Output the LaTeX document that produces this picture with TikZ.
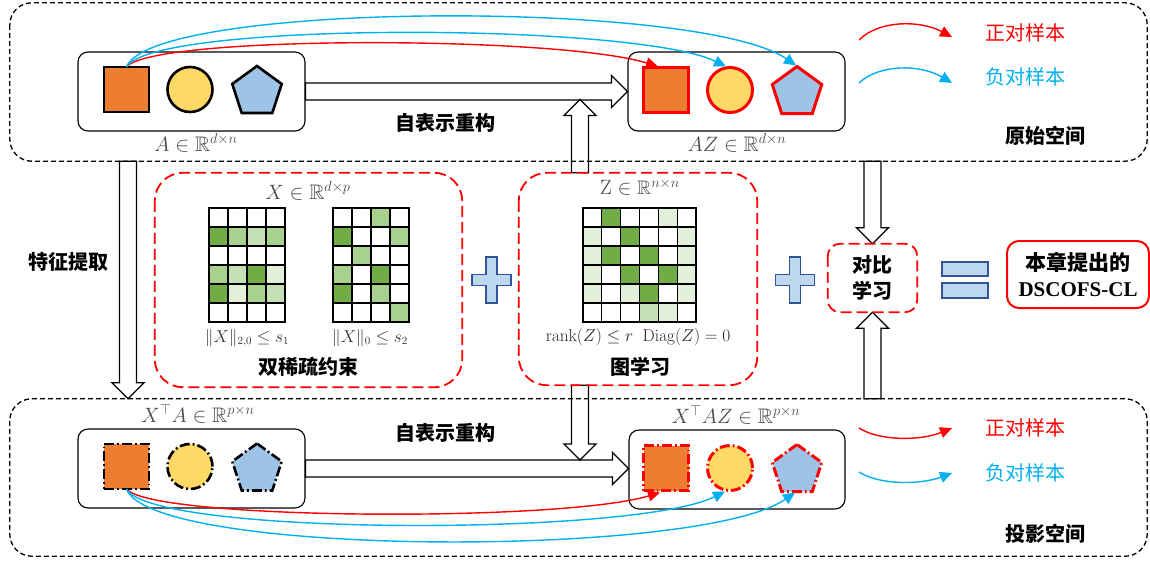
\documentclass[tikz,border=0pt]{standalone}
\usepackage{amssymb}
\usepackage[no-math]{fontspec}
\setmainfont{Liberation Serif}
\newfontfamily\cjk{Noto Sans CJK SC}
\usetikzlibrary{arrows.meta,shapes.geometric,calc}
\definecolor{cOr}{HTML}{ED7D31}
\definecolor{cYe}{HTML}{FFD966}
\definecolor{cBl}{HTML}{9DC3E6}
\definecolor{cRed}{HTML}{FF0000}
\definecolor{cCy}{HTML}{00B0F0}
\definecolor{cD}{HTML}{70AD47}
\definecolor{cM}{HTML}{A9D18E}
\definecolor{cL}{HTML}{C5E0B4}
\definecolor{cV}{HTML}{E2F0D9}
\definecolor{cW}{HTML}{FFFFFF}
\definecolor{plusfill}{HTML}{BDD7EE}
\definecolor{plusline}{HTML}{2F5597}
\definecolor{mgray}{HTML}{4A4A4A}

\newcommand\rarrow[2]{\draw[bigarrow] let \p1=(#1), \p2=(#2) in
  ({\x1},{\y1+8.5pt}) -- ({\x2-16pt},{\y1+8.5pt}) -- ({\x2-16pt},{\y1+16pt}) -- ({\x2},{\y1})
  -- ({\x2-16pt},{\y1-16pt}) -- ({\x2-16pt},{\y1-8.5pt}) -- ({\x1},{\y1-8.5pt}) -- cycle;}
\newcommand\darrow[2]{\draw[bigarrow] let \p1=(#1), \p2=(#2) in
  ({\x1-8.5pt},{\y1}) -- ({\x1-8.5pt},{\y2+16pt}) -- ({\x1-16pt},{\y2+16pt}) -- ({\x1},{\y2})
  -- ({\x1+16pt},{\y2+16pt}) -- ({\x1+8.5pt},{\y2+16pt}) -- ({\x1+8.5pt},{\y1}) -- cycle;}
\newcommand\uarrow[2]{\draw[bigarrow] let \p1=(#1), \p2=(#2) in
  ({\x1-8.5pt},{\y1}) -- ({\x1-8.5pt},{\y2-16pt}) -- ({\x1-16pt},{\y2-16pt}) -- ({\x1},{\y2})
  -- ({\x1+16pt},{\y2-16pt}) -- ({\x1+8.5pt},{\y2-16pt}) -- ({\x1+8.5pt},{\y1}) -- cycle;}
\newcommand\mgrid[5]{%
  \foreach \row [count=\r from 0] in {#5} {
    \foreach \cc [count=\k from 0] in \row {
      \draw[gridst, fill=c\cc] ({#1+\k*#3},{#2+\r*#4}) rectangle +(#3,#4);
    }}}

\begin{document}
\begin{tikzpicture}[x=1pt,y=-1pt,
  bigarrow/.style={draw=black, fill=white, line width=1.3pt, line join=miter},
  whitebox/.style={draw=black, rounded corners=10pt, line width=1.1pt, minimum height=79pt, inner sep=0pt},
  shp/.style={line width=2.6pt, inner sep=0pt, outer sep=0pt},
  sqs/.style={shp, rectangle, minimum size=45pt, fill=cOr},
  cis/.style={shp, circle, minimum size=45pt, fill=cYe},
  pes/.style={shp, regular polygon, regular polygon sides=5, minimum size=52pt, fill=cBl},
  blkline/.style={draw=black},
  redline/.style={draw=cRed, line width=3pt},
  bdd/.style={draw=black, dash pattern=on 10pt off 3pt on 1.8pt off 3pt},
  rdd/.style={draw=cRed, line width=3pt, dash pattern=on 10pt off 3pt on 1.8pt off 3pt},
  spacebox/.style={draw=black, line width=1.3pt, dash pattern=on 5pt off 3pt, rounded corners=22pt, inner sep=0pt},
  reddash/.style={draw=cRed, line width=1.8pt, dash pattern=on 11pt off 5pt, rounded corners=28pt, inner sep=0pt},
  gridst/.style={draw=black, line width=1.1pt},
  mlab/.style={font=\fontsize{21}{24}\selectfont, text=mgray, inner sep=0pt},
  slab/.style={font=\fontsize{16}{19}\selectfont, text=black!80, inner sep=0pt},
  cjkb/.style={font=\cjk\bfseries\fontsize{20}{26}\selectfont, inner sep=0pt},
  cjkr/.style={font=\cjk\fontsize{20}{26}\selectfont, inner sep=0pt},
  posarr/.style={draw=cRed, line width=1.4pt, -{Triangle[length=12pt,width=11pt]}},
  negarr/.style={draw=cCy, line width=1.4pt, -{Triangle[length=12pt,width=11pt]}},
  plusst/.style={draw=plusline, fill=plusfill, line width=1.8pt, line join=miter},
  eqst/.style={draw=plusline, fill=plusfill, line width=1.6pt, inner sep=0pt, minimum width=46pt},
  pics/plus/.style={code={\draw[plusst] (-5.5,-23) -- (5.5,-23) -- (5.5,-5.5) -- (19.5,-5.5) -- (19.5,5.5) -- (5.5,5.5) -- (5.5,23) -- (-5.5,23) -- (-5.5,5.5) -- (-19.5,5.5) -- (-19.5,-5.5) -- (-5.5,-5.5) -- cycle;}}
]
\fill[white] (0,0) rectangle (1150,563);
\useasboundingbox (0,0) rectangle (1150,563);

% space frames (nodes only, drawn later)
\path (578.5,82) node[minimum width=1137pt, minimum height=158pt, inner sep=0pt] (top) {};
\path (578.5,477.5) node[minimum width=1137pt, minimum height=157pt, inner sep=0pt] (bot) {};

% boxes
\node[whitebox, minimum width=227pt] (tl) at (191.5,91.5) {};
\node[whitebox, minimum width=217pt] (tr) at (736.5,91.5) {};
\node[whitebox, minimum width=227pt] (bl) at (191.5,468.5) {};
\node[whitebox, minimum width=216pt] (br) at (737,469.5) {};
\node[minimum width=307pt, minimum height=214pt, inner sep=0pt] (xbox) at (308.5,280) {};
\node[minimum width=238pt, minimum height=212pt, inner sep=0pt] (zbox) at (638,279) {};
\node[cjkb, align=center, minimum width=89pt, minimum height=68pt] (cl) at (872.5,278) {对比\\学习};

\coordinate (zx) at (580,0);
\coordinate (lx) at (128,0);
\coordinate (uptip) at (580,99.5);
\coordinate (dntip) at (580,460);

% big arrows
\rarrow{tl.east}{tr.west}
\rarrow{bl.east}{br.west}
\darrow{lx |- top.south}{lx |- bot.north}
\uarrow{zbox.north -| zx}{uptip}
\darrow{zbox.south -| zx}{dntip}
\darrow{cl.north |- top.south}{cl.north}
\uarrow{cl.south |- bot.north}{cl.south}

% frames drawn over arrows
\draw[spacebox] (top.north west) rectangle (top.south east);
\draw[spacebox] (bot.north west) rectangle (bot.south east);
\draw[reddash] (xbox.north west) rectangle (xbox.south east);
\draw[reddash] (zbox.north west) rectangle (zbox.south east);
\draw[reddash, rounded corners=12pt] (cl.north west) rectangle (cl.south east);

% shapes top-left
\node[sqs, blkline] (sqA) at (126.5,89.5) {};
\node[cis, blkline] (ciA) at (190,89.5) {};
\node[pes, blkline] (peA) at (257,92) {};
% shapes top-right
\node[sqs, redline] (sqB) at (666,90) {};
\node[cis, redline] (ciB) at (730,90) {};
\node[pes, redline] (peB) at (797,92.5) {};
% shapes bottom-left
\node[sqs, bdd] (sqC) at (126.5,466.5) {};
\node[cis, bdd] (ciC) at (190,466.5) {};
\node[pes, bdd] (peC) at (257,469.5) {};
% shapes bottom-right
\node[sqs, rdd] (sqD) at (666,468) {};
\node[cis, rdd] (ciD) at (730,468) {};
\node[pes, rdd] (peD) at (797,470.5) {};

% contrastive curves top
\draw[posarr] (sqA.north) .. controls +(25,-32) and +(-100,-31) .. ($(sqB.north)+(-8,-1)$);
\draw[negarr] (sqA.north) .. controls +(25,-46) and +(-90,-44) .. ($(ciB.north)+(-4,-1)$);
\draw[negarr] (sqA.north) .. controls +(25,-66) and +(-95,-66) .. ($(peB.north)+(-1,-1)$);
% contrastive curves bottom
\draw[posarr] (sqC.south) .. controls +(25,31) and +(-100,30) .. ($(sqD.south)+(-6,2)$);
\draw[negarr] (sqC.south) .. controls +(25,47) and +(-90,45) .. ($(ciD.south)+(-5,1)$);
\draw[negarr] (sqC.south) .. controls +(25,68) and +(-95,66) .. ($(peD.south)+(-2,1)$);

% legends
\coordinate (lg1s) at (859,40); \coordinate (lg1e) at (952,37);
\coordinate (lg2s) at (859,83); \coordinate (lg2e) at (952,83);
\coordinate (lg3s) at (859,428); \coordinate (lg3e) at (952,428);
\coordinate (lg4s) at (859,472); \coordinate (lg4e) at (952,473);
\draw[posarr] (lg1s) .. controls +(20,-20) and +(-32,-17) .. (lg1e);
\draw[negarr] (lg2s) .. controls +(20,-19) and +(-32,-19) .. (lg2e);
\draw[posarr] (lg3s) .. controls +(20,13) and +(-32,13) .. (lg3e);
\draw[negarr] (lg4s) .. controls +(20,13) and +(-32,12) .. (lg4e);
\node[cjkr, text=cRed] (lt1) at (1025,33) {正对样本};
\node[cjkr, text=cCy] (lt2) at (1025,77) {负对样本};
\node[cjkr, text=cRed] (lt3) at (1025,428) {正对样本};
\node[cjkr, text=cCy] (lt4) at (1025,473) {负对样本};
\node[cjkb] (sp1) at (1045,136) {原始空间};
\node[cjkb] (sp2) at (1045,534) {投影空间};

% texts
\node[cjkb] (t1) at (445,123) {自表示重构};
\node[cjkb] (t2) at (445,433) {自表示重构};
\node[cjkb] (t3) at (68,262) {特征提取};
\node[cjkb] (t4) at (308,367) {双稀疏约束};
\node[cjkb] (t5) at (640,367) {图学习};

\node[mlab] (la) at (196,143) {$A\in\mathbb{R}^{d\times n}$};
\node[mlab] (laz) at (737,143) {$AZ\in\mathbb{R}^{d\times n}$};
\node[mlab] (lxa) at (198,414) {$X^{\top}A\in\mathbb{R}^{p\times n}$};
\node[mlab] (lxaz) at (736,415) {$X^{\top}AZ\in\mathbb{R}^{p\times n}$};
\node[mlab] (lxl) at (308,191) {$X\in\mathbb{R}^{d\times p}$};
\node[mlab, font=\fontsize{19.5}{22}\selectfont] (lz) at (640,187) {$\mathrm{Z}\in\mathbb{R}^{n\times n}$};
\node[slab] (n1) at (247,338) {$\|X\|_{2,0}\le s_1$};
\node[slab] (n2) at (370,338) {$\|X\|_0\le s_2$};
\node[mlab, text=black!85, font=\fontsize{18.8}{22}\selectfont] (rk) at (638,337) {$\mathrm{rank}(Z)\le r\ \ \mathrm{Diag}(Z)=0$};

% grids
\mgrid{209}{208}{19}{19}{{W,W,W,W},{D,M,L,M},{W,W,W,W},{M,L,D,V},{D,V,M,L},{W,W,W,W}}
\mgrid{333}{208}{19}{19}{{W,W,M,W},{D,W,W,M},{W,M,W,W},{M,W,D,W},{D,W,M,W},{W,W,W,M}}
\mgrid{583}{208}{18.83}{19}{{W,D,W,W,V,W},{V,W,D,W,W,V},{V,D,W,D,W,V},{V,W,D,W,D,V},{V,W,V,D,W,V},{W,W,W,L,V,W}}

% plus and equals
\pic (p1) at (491.5,280) {plus};
\pic (p2) at (795,280) {plus};
\node[eqst, minimum height=14pt] (eq1) at (965,269) {};
\node[eqst, minimum height=15pt] (eq2) at (965,290.5) {};

% result
\node[draw=cRed, line width=2pt, rounded corners=12pt, minimum width=142pt, minimum height=67pt, align=center, inner sep=0pt, font=\fontsize{21}{26}\selectfont] (fin) at (1078,274.5) {{\cjk\bfseries 本章提出的}\\{\bfseries DSCOFS-CL}};
\end{tikzpicture}
\end{document}
